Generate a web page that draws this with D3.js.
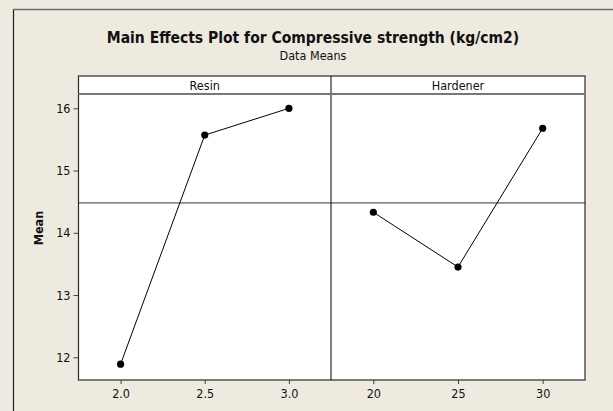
<!DOCTYPE html>
<html><head><meta charset="utf-8">
<script src="https://cdn.jsdelivr.net/npm/d3@7"></script>
<style>
html,body{margin:0;padding:0;background:#EEEAE0;}
svg{display:block;}
text{font-family:"DejaVu Sans Condensed","DejaVu Sans",sans-serif;fill:#111;}
</style></head>
<body>
<svg id="c" width="613" height="411"></svg>
<script>
const title = "Main Effects Plot for Compressive strength (kg/cm2)";
const subtitle = "Data Means";
const yLabel = "Mean";
const factors = ["Resin", "Hardener"];
const resinLevels = [2.0, 2.5, 3.0];
const resinMeans = [11.89, 15.57, 16.00];
const hardenerLevels = [20, 25, 30];
const hardenerMeans = [14.33, 13.45, 15.68];
const resinTicks = ["2.0", "2.5", "3.0"];
const hardenerTicks = ["20", "25", "30"];
const yTicks = [12, 13, 14, 15, 16];
const grandMean = 14.48;

const FONT = "'DejaVu Sans Condensed','DejaVu Sans',sans-serif";
const svg = d3.select("#c");
// figure border (top and left)
svg.append("line").attr("x1",13.5).attr("x2",613).attr("y1",9.5).attr("y2",9.5).attr("stroke","#6e6e6a").attr("stroke-width",1.5);
svg.append("line").attr("x1",13.5).attr("x2",13.5).attr("y1",9.5).attr("y2",411).attr("stroke","#222").attr("stroke-width",1.2);

svg.append("text").attr("x",313).attr("y",43).attr("text-anchor","middle")
  .attr("font-weight","bold").attr("font-size",15.5).text(title);
svg.append("text").attr("x",313).attr("y",60).attr("text-anchor","middle")
  .attr("font-size",12.5).text(subtitle);

const stripTop = 76, stripBot = 94, plotBot = 380;
const left = 78.5, mid = 331, right = 585;

const y = d3.scaleLinear().domain([11.635, 16.23]).range([plotBot, stripBot]);

const panels = [
  {name: factors[0], x0: left, x1: mid, levels: resinLevels, means: resinMeans, ticks: resinTicks, dom: [1.75, 3.25]},
  {name: factors[1], x0: mid, x1: right, levels: hardenerLevels, means: hardenerMeans, ticks: hardenerTicks, dom: [17.5, 32.5]}
];

svg.append("rect").attr("x",left).attr("y",stripTop).attr("width",right-left).attr("height",plotBot-stripTop).attr("fill","#fff");

panels.forEach(p => {
  const x = d3.scaleLinear().domain(p.dom).range([p.x0, p.x1]);
  svg.append("text").attr("x",(p.x0+p.x1)/2).attr("y",90).attr("text-anchor","middle")
    .attr("font-size",12.5).text(p.name);
  svg.append("line").attr("x1",p.x0).attr("x2",p.x1).attr("y1",y(grandMean)).attr("y2",y(grandMean))
    .attr("stroke","#333").attr("stroke-width",1);
  const ax = d3.axisBottom(x).tickValues(p.levels).tickSize(4).tickPadding(5)
    .tickFormat((d,i) => p.ticks[i]);
  const g = svg.append("g").attr("transform",`translate(0,${plotBot})`).call(ax);
  g.select(".domain").remove();
  g.selectAll(".tick line").attr("stroke","#444");
  g.selectAll(".tick text").attr("font-size",12.5).attr("fill","#111").attr("font-family",FONT);
  const pts = p.levels.map((l,i) => [x(l), y(p.means[i])]);
  svg.append("path").attr("d", d3.line()(pts)).attr("fill","none").attr("stroke","#000").attr("stroke-width",1);
  svg.selectAll(null).data(pts).enter().append("circle")
    .attr("cx",d=>d[0]).attr("cy",d=>d[1]).attr("r",3.6).attr("fill","#000");
});

const ay = d3.axisLeft(y).tickValues(yTicks).tickSize(5).tickPadding(3).tickFormat(d3.format("d"));
const gy = svg.append("g").attr("transform",`translate(${left},0)`).call(ay);
gy.select(".domain").remove();
gy.selectAll(".tick line").attr("stroke","#444");
gy.selectAll(".tick text").attr("font-size",12.5).attr("fill","#111").attr("font-family",FONT);

svg.append("text").attr("transform","translate(43,228) rotate(-90)").attr("text-anchor","middle")
  .attr("font-weight","bold").attr("font-size",12.5).text(yLabel);

svg.append("rect").attr("x",left).attr("y",stripTop).attr("width",right-left).attr("height",plotBot-stripTop)
  .attr("fill","none").attr("stroke","#2a2a2a").attr("stroke-width",1.2);
svg.append("line").attr("x1",mid).attr("x2",mid).attr("y1",stripTop).attr("y2",plotBot).attr("stroke","#2a2a2a").attr("stroke-width",1.2);
svg.append("line").attr("x1",left).attr("x2",right).attr("y1",stripBot).attr("y2",stripBot).attr("stroke","#777").attr("stroke-width",1.8);
</script>
</body></html>
